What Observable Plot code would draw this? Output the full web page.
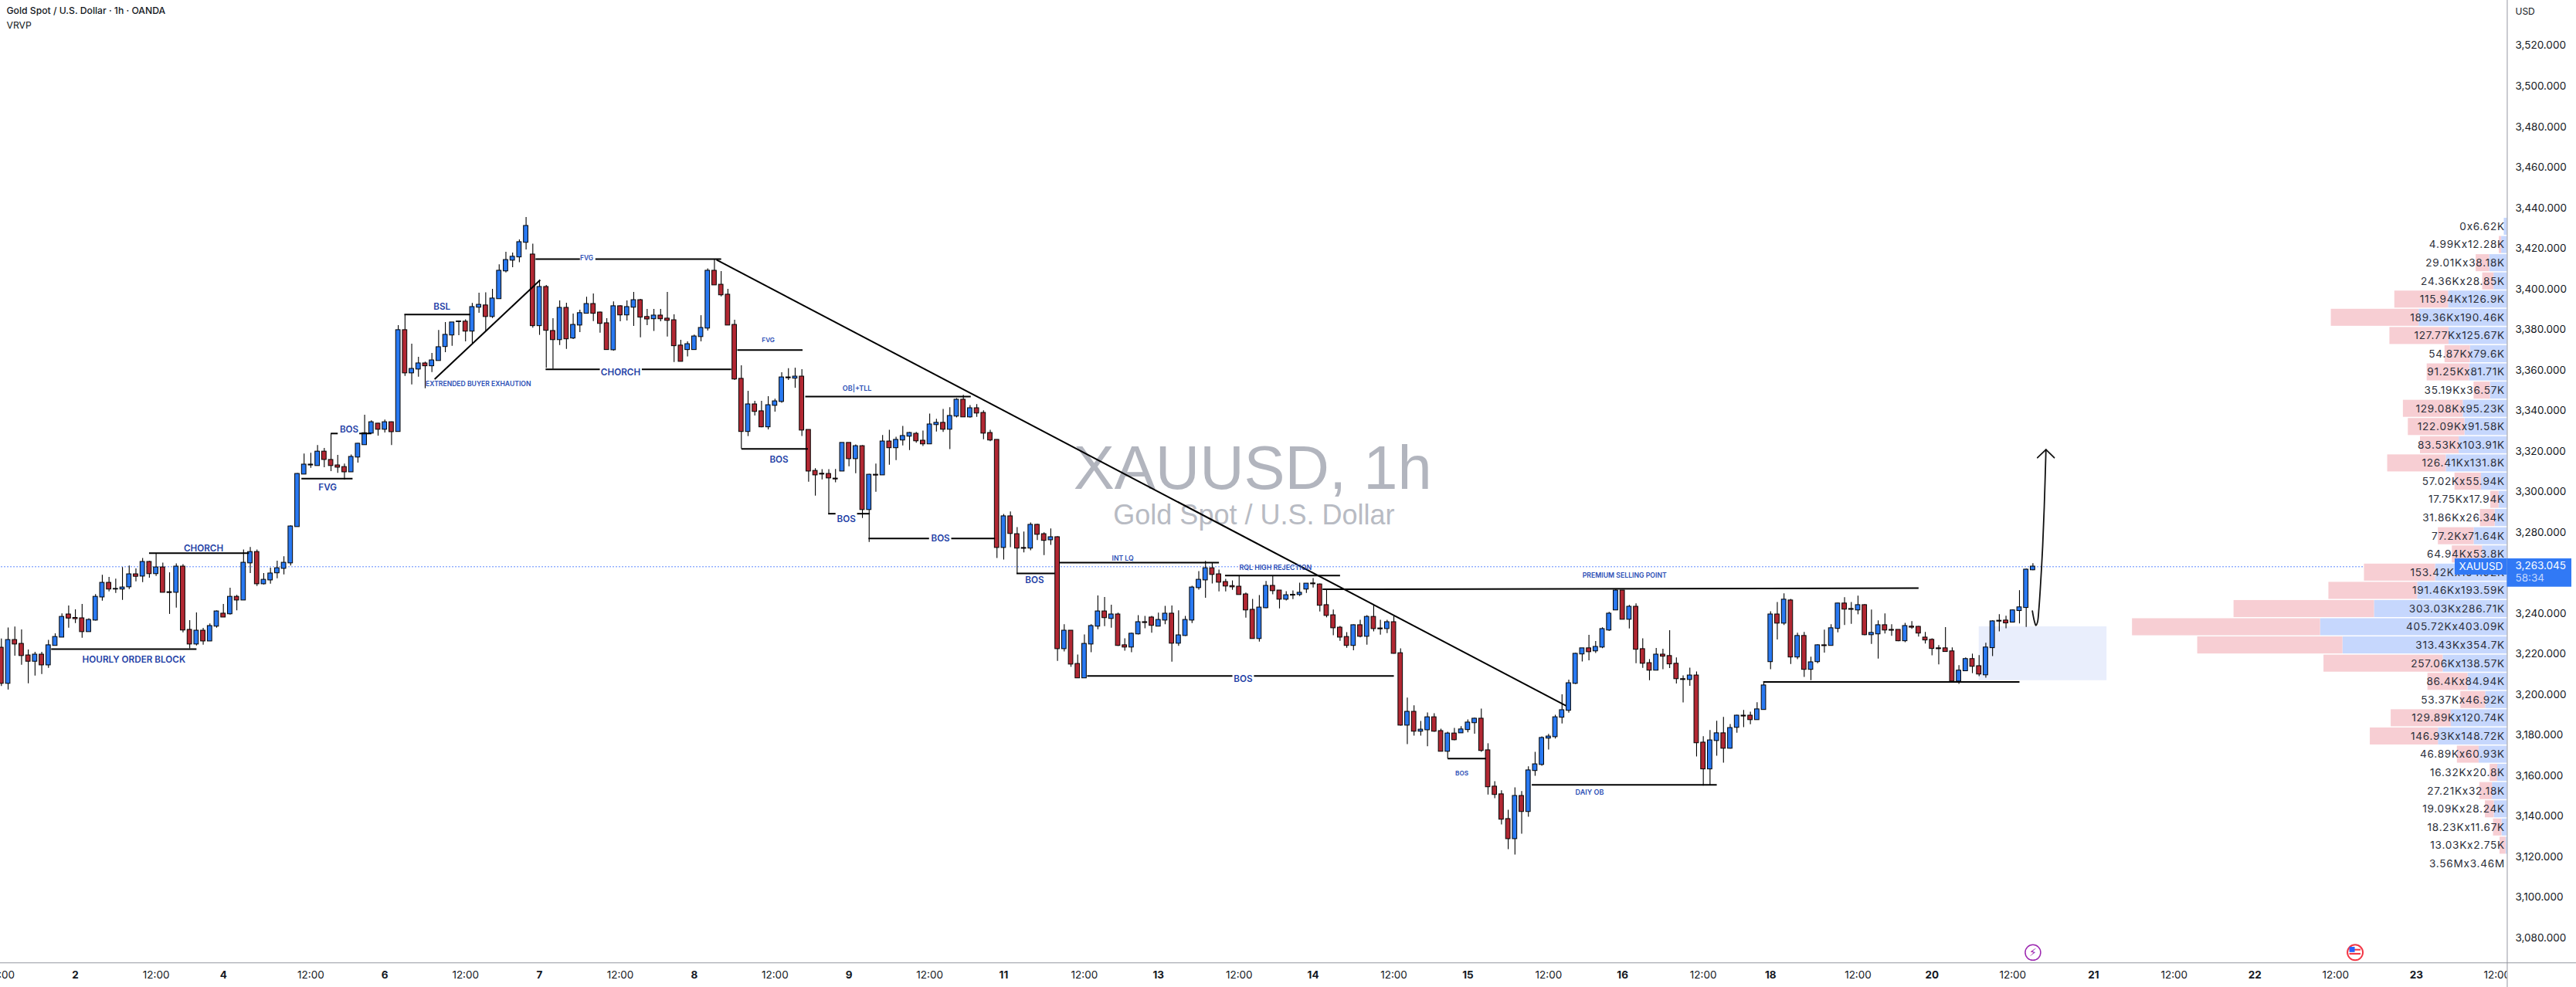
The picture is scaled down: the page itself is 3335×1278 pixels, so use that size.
<!DOCTYPE html>
<html><head><meta charset="utf-8">
<style>html,body{margin:0;padding:0;background:#fff;overflow:hidden}svg{display:block}</style>
<script src="https://cdn.jsdelivr.net/npm/d3@7"></script>
<script src="https://cdn.jsdelivr.net/npm/@observablehq/plot@0.6"></script>
</head><body><div id="chart"></div>
<script>
const opens=[
3223.0,3205.5,3226.8,3224.9,3219.2,3216.4,3219.6,3214.6,3224.2,3228.3,
3239.4,3237.7,3237.5,3231.0,3236.7,3248.1,3255.0,3252.0,3252.0,3253.1,
3259.2,3258.4,3265.3,3259.6,3262.6,3250.4,3250.4,3263.0,3231.8,3224.9,
3231.4,3226.4,3233.7,3239.8,3239.8,3248.1,3246.6,3264.9,3270.2,3254.6,
3256.5,3260.0,3262.2,3264.9,3282.8,3308.7,3313.3,3312.9,3319.7,3315.6,
3312.9,3312.1,3309.8,3317.1,3323.2,3328.9,3333.5,3330.8,3334.2,3329.7,
3379.6,3358.6,3360.5,3363.2,3362.1,3364.7,3371.6,3377.3,3383.9,3383.8,
3379.2,3391.0,3391.8,3386.4,3395.2,3408.9,3414.2,3415.8,3423.0,3416.9,
3381.9,3400.9,3379.2,3375.0,3390.6,3375.8,3382.2,3388.0,3392.5,3388.3,
3383.0,3370.0,3391.4,3387.2,3391.0,3394.4,3386.1,3385.3,3386.8,3385.3,
3384.5,3372.0,3370.1,3370.1,3376.5,3380.7,3408.9,3402.0,3397.1,3382.2,
3355.6,3329.7,3343.0,3339.6,3332.0,3342.6,3344.5,3356.3,3356.0,3356.7,
3330.4,3310.2,3308.8,3308.7,3306.4,3310.2,3324.0,3316.3,3322.4,3291.2,
3308.3,3308.3,3324.7,3321.7,3325.5,3327.4,3328.5,3325.1,3323.6,3333.1,
3333.9,3330.8,3337.3,3345.3,3336.9,3341.1,3338.8,3328.9,3325.5,3272.5,
3287.8,3279.0,3272.2,3272.2,3283.6,3279.0,3276.3,3277.5,3222.6,3231.4,
3215.0,3208.2,3224.9,3233.7,3240.9,3237.5,3239.4,3224.2,3223.4,3229.9,
3235.6,3237.9,3233.7,3236.7,3239.8,3225.3,3229.1,3236.7,3252.7,3256.5,
3262.2,3259.2,3255.4,3253.4,3253.1,3249.3,3241.7,3227.6,3242.8,3253.5,
3251.2,3247.0,3249.1,3249.3,3252.0,3254.7,3254.2,3244.0,3239.0,3232.9,
3228.3,3224.2,3234.1,3228.7,3238.2,3232.5,3232.5,3235.6,3220.3,3184.9,
3191.4,3181.9,3182.6,3188.7,3181.9,3172.0,3180.7,3181.1,3182.7,3186.1,
3188.0,3172.4,3154.5,3150.7,3138.5,3128.9,3149.9,3142.3,3162.5,3165.5,
3178.5,3179.2,3188.8,3192.2,3205.5,3220.0,3222.7,3221.5,3223.4,3231.8,
3241.7,3251.2,3237.1,3243.2,3222.3,3215.4,3212.0,3219.6,3218.9,3215.1,
3207.5,3207.4,3209.3,3176.2,3163.3,3177.3,3180.8,3173.5,3183.8,3189.5,
3189.5,3187.6,3192.6,3216.2,3239.4,3235.2,3246.3,3218.5,3228.8,3212.4,
3216.2,3224.2,3224.2,3232.6,3244.8,3242.1,3241.7,3244.0,3229.5,3229.9,
3234.1,3231.8,3231.8,3226.5,3233.4,3233.3,3228.0,3226.9,3222.7,3222.7,
3221.2,3206.6,3211.7,3217.4,3213.9,3209.7,3223.1,3236.3,3236.4,3235.7,3241.4,3242.9,3261.5];
const closes=[
3205.5,3226.8,3224.9,3219.2,3216.4,3219.6,3214.6,3224.2,3228.3,3238.2,
3237.7,3237.4,3231.0,3236.7,3248.1,3255.0,3252.0,3252.0,3252.7,3259.2,
3258.3,3265.3,3259.6,3262.6,3250.4,3250.3,3263.0,3231.8,3224.9,3231.4,
3226.4,3233.7,3240.9,3238.2,3248.1,3246.6,3264.9,3270.2,3254.6,3256.5,
3259.6,3262.2,3264.9,3282.8,3308.7,3313.3,3313.2,3319.7,3315.9,3312.9,
3312.1,3309.8,3317.1,3323.6,3328.8,3334.2,3330.8,3334.2,3329.6,3379.6,
3358.6,3360.5,3363.2,3362.1,3364.7,3371.2,3377.3,3383.4,3383.9,3379.2,
3391.0,3392.1,3386.4,3395.2,3408.9,3414.2,3415.8,3423.0,3431.0,3381.9,
3400.9,3379.6,3375.0,3390.6,3375.4,3382.2,3388.0,3392.5,3388.0,3383.0,
3370.1,3391.4,3387.2,3391.0,3394.4,3386.1,3385.2,3386.8,3385.3,3384.5,
3372.0,3364.3,3372.7,3376.5,3380.7,3408.9,3402.0,3397.1,3382.2,3355.6,
3329.7,3343.0,3339.6,3332.0,3342.6,3344.5,3356.3,3356.2,3356.7,3330.4,
3310.2,3308.3,3308.7,3306.8,3306.3,3324.0,3316.3,3322.4,3291.2,3308.3,
3308.2,3324.7,3321.7,3325.5,3327.4,3328.9,3325.1,3323.6,3333.1,3333.9,
3330.8,3337.3,3345.3,3336.9,3341.1,3338.8,3328.9,3325.5,3272.5,3287.8,
3279.4,3272.2,3272.1,3283.6,3279.0,3276.0,3277.5,3222.6,3231.4,3215.0,
3208.2,3224.9,3233.7,3240.9,3237.9,3239.4,3224.2,3223.4,3229.9,3235.6,
3235.5,3234.1,3236.7,3239.8,3225.3,3229.1,3236.7,3252.7,3256.5,3262.2,
3259.2,3255.4,3253.5,3253.1,3249.3,3241.7,3227.6,3242.8,3253.5,3251.2,
3247.0,3248.9,3249.0,3250.1,3254.6,3254.6,3244.0,3239.0,3232.9,3228.3,
3224.2,3234.1,3228.7,3238.2,3232.5,3232.4,3235.6,3220.3,3184.9,3191.4,
3181.9,3182.6,3188.7,3181.9,3172.0,3180.7,3177.7,3182.7,3186.1,3188.0,
3172.4,3154.5,3150.7,3138.5,3128.9,3149.9,3142.3,3162.5,3165.5,3178.5,
3179.2,3188.7,3192.2,3205.5,3220.0,3222.7,3221.1,3223.4,3232.2,3239.8,
3251.2,3237.1,3243.2,3222.3,3215.4,3212.0,3219.6,3218.9,3215.1,3207.8,
3207.4,3209.3,3176.2,3163.3,3177.3,3180.8,3173.5,3183.4,3189.5,3189.4,
3187.6,3192.6,3204.4,3239.4,3235.2,3246.7,3218.5,3228.8,3212.4,3215.8,
3224.2,3224.1,3232.6,3244.8,3242.1,3242.0,3244.0,3229.5,3230.3,3234.1,
3231.8,3231.7,3226.5,3233.7,3233.2,3230.3,3226.9,3222.7,3222.6,3221.2,
3206.6,3211.7,3217.4,3213.9,3210.1,3223.1,3236.0,3236.2,3235.3,3241.4,3242.9,3261.5,3263.0];
const highs=[
3227.5,3232.9,3233.4,3231.9,3222.0,3220.9,3220.9,3226.8,3230.0,3239.8,
3243.7,3241.8,3244.5,3237.5,3249.4,3258.9,3257.8,3257.0,3262.7,3263.5,
3262.0,3267.2,3265.7,3269.6,3264.9,3260.1,3264.5,3264.1,3236.5,3240.3,
3232.7,3234.9,3241.3,3244.5,3252.5,3249.0,3271.4,3272.6,3271.4,3259.7,
3262.4,3265.8,3268.0,3283.3,3309.1,3318.7,3319.1,3322.9,3321.4,3328.8,
3318.0,3313.7,3318.2,3323.9,3337.8,3335.1,3333.8,3335.4,3334.5,3382.0,
3387.3,3372.9,3366.4,3364.0,3368.3,3379.6,3383.5,3383.4,3384.3,3384.9,
3392.9,3398.0,3398.2,3399.9,3412.0,3418.2,3417.8,3424.3,3435.3,3422.2,
3404.5,3401.8,3385.4,3394.2,3393.0,3387.7,3389.6,3396.0,3397.6,3388.7,
3385.4,3393.7,3391.8,3394.2,3398.4,3394.9,3390.0,3390.0,3390.0,3398.4,
3387.3,3374.8,3374.0,3377.3,3386.9,3410.0,3414.6,3408.7,3399.9,3384.7,
3362.2,3349.6,3344.7,3344.7,3347.0,3345.7,3358.8,3360.8,3361.0,3360.3,
3330.4,3311.4,3311.0,3311.0,3311.1,3324.0,3324.0,3323.2,3322.8,3308.7,
3313.7,3327.8,3330.4,3327.0,3332.3,3329.3,3329.3,3330.0,3338.4,3335.8,
3340.7,3341.5,3346.0,3347.6,3342.6,3343.1,3340.0,3330.4,3325.5,3288.9,
3290.1,3282.4,3280.2,3284.7,3284.0,3279.8,3281.7,3277.9,3234.5,3231.4,
3219.6,3229.5,3234.5,3248.7,3247.9,3244.1,3240.2,3227.6,3230.3,3239.0,
3238.6,3238.6,3240.2,3243.6,3243.7,3241.4,3238.6,3253.5,3260.7,3265.7,
3264.7,3261.5,3256.9,3256.1,3258.4,3250.1,3247.0,3248.9,3255.8,3258.4,
3251.2,3250.8,3251.2,3255.0,3254.6,3257.3,3254.6,3251.6,3241.7,3233.7,
3230.6,3234.4,3236.7,3239.0,3244.0,3236.7,3236.7,3238.6,3222.6,3198.3,
3194.5,3186.8,3191.0,3190.6,3183.0,3181.5,3183.4,3184.2,3187.6,3188.4,
3192.9,3175.8,3157.1,3152.6,3143.0,3154.1,3152.2,3164.4,3171.6,3179.2,
3180.4,3189.9,3199.9,3207.2,3220.4,3222.7,3229.3,3226.2,3233.0,3240.6,
3252.0,3251.2,3244.0,3244.8,3227.6,3217.3,3222.8,3222.4,3231.6,3218.1,
3209.3,3213.1,3211.2,3179.3,3182.3,3186.9,3188.8,3185.3,3189.9,3192.2,
3191.4,3196.0,3205.9,3240.9,3245.5,3249.7,3247.0,3230.3,3230.7,3218.5,
3224.6,3231.8,3234.5,3245.1,3247.8,3245.5,3248.6,3244.4,3241.7,3236.4,
3239.8,3234.5,3231.8,3235.2,3236.0,3233.7,3230.7,3227.6,3224.2,3233.1,
3223.1,3214.3,3218.1,3220.0,3219.3,3225.4,3236.4,3239.5,3238.7,3241.7,3251.3,3261.9,3264.6];
const lows=[
3204.0,3202.3,3219.0,3214.5,3205.4,3209.2,3209.9,3213.0,3224.2,3228.3,
3232.8,3235.1,3227.8,3231.0,3236.3,3246.1,3250.7,3249.9,3246.5,3251.8,
3255.6,3255.3,3257.5,3258.3,3250.4,3239.6,3242.7,3230.5,3222.6,3224.0,
3224.4,3226.4,3232.8,3238.2,3239.3,3241.4,3246.6,3259.7,3253.4,3254.1,
3254.5,3257.2,3259.1,3263.5,3282.8,3308.7,3311.6,3312.9,3311.9,3310.0,
3309.2,3305.8,3309.8,3314.2,3323.2,3328.9,3327.5,3329.1,3322.9,3329.7,
3357.0,3352.8,3356.6,3350.9,3358.9,3364.7,3368.7,3371.8,3377.0,3374.0,
3373.2,3388.1,3379.2,3385.5,3395.2,3408.0,3410.6,3413.0,3419.3,3380.8,
3377.2,3361.0,3360.5,3372.2,3370.3,3375.1,3378.6,3388.0,3384.0,3378.3,
3370.1,3369.4,3383.9,3384.3,3381.6,3376.0,3382.0,3379.1,3383.9,3376.4,
3363.8,3364.3,3366.6,3370.1,3374.0,3379.3,3402.0,3396.2,3382.2,3355.0,
3321.2,3327.3,3337.4,3331.6,3330.6,3339.3,3343.7,3355.0,3351.1,3327.3,
3304.8,3297.9,3305.9,3289.3,3304.5,3310.2,3312.4,3309.0,3286.9,3275.1,
3299.8,3308.3,3313.2,3315.4,3322.7,3320.4,3324.0,3322.4,3323.6,3329.5,
3329.3,3320.9,3336.5,3336.9,3336.4,3336.8,3325.7,3324.8,3267.2,3266.4,
3272.5,3259.7,3269.9,3271.0,3276.0,3268.6,3273.6,3216.4,3221.1,3213.5,
3208.2,3208.2,3220.7,3232.0,3233.6,3232.8,3223.8,3221.5,3220.7,3229.5,
3232.5,3230.3,3233.7,3234.5,3216.0,3223.8,3228.7,3235.1,3251.6,3247.6,
3254.6,3250.7,3250.7,3251.5,3249.3,3237.7,3227.6,3225.9,3242.4,3249.3,
3242.3,3246.2,3246.9,3248.4,3249.9,3252.6,3240.8,3237.9,3229.1,3226.3,
3222.9,3221.7,3228.0,3224.4,3231.0,3229.4,3230.1,3220.0,3184.5,3175.4,
3179.6,3179.6,3174.3,3181.5,3172.0,3168.2,3177.3,3180.9,3181.2,3180.5,
3171.6,3150.5,3148.7,3135.8,3123.6,3120.9,3131.2,3139.6,3159.8,3164.7,
3172.7,3178.1,3185.6,3190.9,3205.0,3216.1,3216.7,3220.3,3222.7,3231.2,
3241.7,3237.1,3232.4,3215.3,3213.0,3206.9,3212.0,3212.3,3212.9,3205.3,
3195.9,3204.1,3169.3,3154.9,3155.4,3169.7,3166.2,3173.2,3181.0,3183.8,
3185.2,3187.6,3192.6,3212.3,3227.0,3234.1,3214.9,3217.3,3208.5,3206.9,
3215.3,3220.5,3224.2,3230.5,3234.1,3234.7,3239.4,3229.1,3224.8,3217.6,
3229.9,3228.8,3226.1,3225.7,3232.2,3228.4,3225.0,3219.2,3214.7,3221.2,
3206.6,3205.1,3211.7,3210.4,3208.9,3208.1,3218.8,3231.0,3232.5,3235.7,3234.9,3233.2,3261.2];

const priceTicks=[3520,3500,3480,3460,3440,3420,3400,3380,3360,3340,3320,3300,3280,3240,3220,3200,3180,3160,3140,3120,3100,3080];
const timeBars=[0,11,23,33,46,57,69,80,92,103,115,126,138,149,161,172,184,195,207,218,230,241,253,263,276,287,299,311,323,335,347,359,371];
const timeLabels=["12:00","2","12:00","4","12:00","6","12:00","7","12:00","8","12:00","9","12:00","11","12:00","13","12:00","14","12:00","15","12:00","16","12:00","18","12:00","20","12:00","21","12:00","22","12:00","23","12:00"];

const profilePrices=[3430.75,3421.77,3412.80,3403.82,3394.84,3385.87,3376.89,3367.91,3358.93,3349.96,3340.98,3332.00,3323.03,3314.05,3305.07,3296.10,3287.12,3278.14,3269.16,3260.19,3251.21,3242.23,3233.26,3224.28,3215.30,3206.32,3197.35,3188.37,3179.39,3170.42,3161.44,3152.46,3143.48,3134.51,3125.53];
const sellVol=[0,4.99,29.01,24.36,115.94,189.36,127.77,54.87,91.25,35.19,129.08,122.09,83.53,126.41,57.02,17.75,31.86,77.2,64.94,153.42,191.46,303.03,405.72,313.43,257.06,86.4,53.37,129.89,146.93,46.89,16.32,27.21,19.09,18.23,13.03];
const buyVol=[6.62,12.28,38.18,28.85,126.9,190.46,125.67,79.6,81.71,36.57,95.23,91.58,103.91,131.8,55.94,17.94,26.34,71.64,53.8,154.92,193.59,286.71,403.09,354.7,138.57,84.94,46.92,120.74,148.72,60.93,20.8,32.18,28.24,11.67,2.75];

const segBar1=[7.4,21.95,44.6,49,53.2,59.9,64.4,79.4,88.3,80.9,95.2,106.3,109.4,110,119.5,122.9,127.2,128.9,141.2,150.9,157.3,181.9,161.4,186.2,196.4,215,227.5,261.9];
const segBar2=[29,36.8,52.2,50,55,69.7,80.1,86,107,88.96,108.5,232.6,119.1,119.9,144.1,124,129.1,137.9,147.7,156.6,181,199,183,207,285,220.7,255,300];
const segP1=[3222.45,3269.7,3306.5,3328.75,3328.75,3387.45,3355.5,3414.75,3414.75,3360.4,3360.4,3414.4,3369.9,3321.2,3346.95,3289.2,3289.2,3277,3277,3259.75,3265.1,3258.7,3209.2,3209.2,3251.9,3168.45,3155.45,3206.2];
const segP2=[3222.45,3269.7,3306.5,3328.75,3328.75,3387.45,3404.5,3414.75,3414.75,3360.4,3360.4,3194.5,3369.9,3321.2,3346.95,3289.2,3289.2,3277,3277,3259.75,3265.1,3258.7,3209.2,3209.2,3252.5,3168.45,3155.45,3206.2];

const bigText=["HOURLY ORDER BLOCK","CHORCH","FVG","BOS","BSL","CHORCH","BOS","BOS","BOS","BOS","BOS"];
const bigBar=[19.7,30.05,48.5,51.7,65.5,92.05,115.6,125.6,139.6,153.6,184.6];
const bigPrice=[3217.2,3272.1,3301.95,3330.5,3391.1,3358.8,3315.7,3286.4,3276.9,3256.3,3207.6];
const smallText=["EXTRENDED BUYER EXHAUTION","FVG","FVG","OB|+TLL","INT LQ","RQL HIGH REJECTION","PREMIUM SELLING POINT","BOS","DAIY OB"];
const smallBar=[70.9,87,114,127.2,166.7,189.4,241.3,217.1,236.1];
const smallPrice=[3353.05,3415.1,3374.8,3351.1,3267,3262.4,3258.6,3161.1,3151.6];
const smallSize=[8.6,8.4,8.2,9,8.6,8.8,8.7,8.2,9];

const curveBars=[301.92,302.2,302.45,302.68,302.9,303.2,303.45,303.68,303.94];
const curvePrices=[3241.2,3236.4,3234.1,3235.7,3242.7,3258,3273.2,3292.2,3320.8];
const headBars=[302.68,303.94,305.17];
const headPrices=[3316.8,3320.8,3316.8];

const lastPrice=3263.045, axisBar=372.51, pxBar=8.709, pxK=0.6;
const candles=opens.map((o,i)=>({i,o,c:closes[i],h:highs[i],l:lows[i]}));
const profile=profilePrices.map((p,k)=>({p,s:sellVol[k],b:buyVol[k]}));
const segs=segBar1.map((x,k)=>({x1:x,x2:segBar2[k],y1:segP1[k],y2:segP2[k]}));
const bigLabels=bigText.map((t,k)=>({t,x:bigBar[k],y:bigPrice[k]}));
const smallLabels=smallText.map((t,k)=>({t,x:smallBar[k],y:smallPrice[k],s:smallSize[k]}));
const blue="#2979F2",red="#B22833",ink="#131722",lblBlue="#1F3FA6";
const one=[0];
const fmtV=v=>v===0?"0":v+"K";

const chart=Plot.plot({
  width:3335,height:1278,margin:0,
  x:{domain:[-0.149,382.79],range:[0,3335],axis:null},
  y:{domain:[3055.6,3542.34],range:[1278,0],axis:null},
  style:{fontFamily:"Inter, Roboto, sans-serif",background:"#fff",color:ink},
  marks:[
    Plot.rect(one,{x1:294,x2:313,y1:3206.9,y2:3233.46,fill:"#E9EEFC"}),
    Plot.ruleY([lastPrice],{x1:0,x2:axisBar,stroke:"#2962FF",strokeWidth:1,strokeDasharray:"1.5 2.5"}),
    Plot.text(["XAUUSD, 1h"],{x:186,y:3301.6,text:d=>d,fontFamily:"Liberation Sans",fontSize:79.5,fill:"#B2B5BE",textAnchor:"middle",lineAnchor:"bottom"}),
    Plot.text(["Gold Spot / U.S. Dollar"],{x:186.2,y:3283.9,text:d=>d,fontFamily:"Liberation Sans",fontSize:36,fill:"#B8BBC3",textAnchor:"middle",lineAnchor:"bottom"}),
    Plot.ruleX(candles,{x:"i",y1:"l",y2:"h",stroke:"#000",strokeWidth:1.1}),
    Plot.rect(candles,{x1:d=>d.i-0.33,x2:d=>d.i+0.33,y1:"o",y2:"c",fill:d=>d.c>=d.o?blue:red,stroke:"#000",strokeWidth:1,insetTop:-0.4,insetBottom:-0.4}),
    Plot.link(segs,{x1:"x1",x2:"x2",y1:"y1",y2:"y2",stroke:"#000",strokeWidth:2}),
    Plot.line(curveBars.map((x,k)=>({x,y:curvePrices[k]})),{x:"x",y:"y",curve:"catmull-rom",stroke:"#111",strokeWidth:1.8}),
    Plot.line(headBars.map((x,k)=>({x,y:headPrices[k]})),{x:"x",y:"y",stroke:"#111",strokeWidth:1.8}),
    Plot.text(bigLabels,{x:"x",y:"y",text:"t",fontSize:11.7,fontWeight:600,fill:lblBlue,textAnchor:"middle"}),
    Plot.text(smallLabels,{x:"x",y:"y",text:"t",fontSize:"s",fontWeight:600,fill:"#2A4DB5",textAnchor:"middle"}),
    Plot.rect(profile,{x1:d=>axisBar-d.b*pxK/pxBar,x2:axisBar,y1:d=>d.p-4.2,y2:d=>d.p+4.2,fill:"#C6D7FD"}),
    Plot.rect(profile,{x1:d=>axisBar-(d.b+d.s)*pxK/pxBar,x2:d=>axisBar-d.b*pxK/pxBar,y1:d=>d.p-4.2,y2:d=>d.p+4.2,fill:"#F7CED3"}),
    Plot.text(profile,{x:axisBar,y:"p",dx:-3,text:d=>fmtV(d.s)+"x"+fmtV(d.b),textAnchor:"end",fontSize:13.6,fill:"#2A2E39"}),
    Plot.text(["3.56Mx3.46M"],{x:axisBar,y:3116.55,dx:-3,text:d=>d,textAnchor:"end",fontSize:13.6,fill:"#2A2E39"}),
    Plot.text(timeBars,{x:d=>d,y:3061.8,text:(d,k)=>timeLabels[k],fontSize:13.5,fontWeight:400,fill:ink,textAnchor:"middle",filter:(d,k)=>timeLabels[k]==="12:00"}),
    Plot.text(timeBars,{x:d=>d,y:3061.8,text:(d,k)=>timeLabels[k],fontSize:13.5,fontWeight:700,fill:ink,textAnchor:"middle",filter:(d,k)=>timeLabels[k]!=="12:00"}),
    Plot.rect(one,{x1:axisBar,x2:382.79,y1:3055.6,y2:3067.7,fill:"#fff"}),
    Plot.ruleY([3067.7],{stroke:"#9598A1",strokeWidth:1}),
    Plot.ruleX([axisBar],{stroke:"#9598A1",strokeWidth:1}),
    Plot.text(priceTicks,{x:axisBar,y:d=>d,dx:10.5,text:d=>d3.format(",.3f")(d),textAnchor:"start",fontSize:13.5,fill:ink}),
    Plot.text(["USD"],{x:axisBar,y:3536.6,dx:10.5,text:d=>d,textAnchor:"start",fontSize:12,fill:ink}),
    Plot.rect(one,{x1:364.76,x2:axisBar,y1:3258.97,y2:3266.97,fill:"#3179F5"}),
    Plot.rect(one,{x1:axisBar,x2:382.1,y1:3253.0,y2:3266.97,fill:"#3179F5"}),
    Plot.text(["XAUUSD"],{x:368.6,y:3263.2,text:d=>d,fontSize:13.5,fill:"#fff",textAnchor:"middle"}),
    Plot.text(["3,263.045"],{x:axisBar,y:3263.4,dx:10.5,text:d=>d,fontSize:13.5,fill:"#fff",textAnchor:"start"}),
    Plot.text(["58:34"],{x:axisBar,y:3257.4,dx:10.5,text:d=>d,fontSize:13.5,fill:"#C5D8FD",textAnchor:"start"}),
    Plot.text(["Gold Spot / U.S. Dollar · 1h · OANDA"],{frameAnchor:"top-left",dx:8,dy:9,text:d=>d,fontSize:12.2,fontWeight:500,fill:ink}),
    Plot.text(["VRVP"],{frameAnchor:"top-left",dx:8,dy:27.5,text:d=>d,fontSize:12.2,fill:ink}),
    Plot.dot(one,{x:302,y:3072.8,r:10,fill:"#fff",stroke:"#9C27B0",strokeWidth:1.5}),
    Plot.text(["⚡"],{x:302,y:3072.8,text:d=>d,fontFamily:"DejaVu Sans",fontSize:14,fill:"#9C27B0",textAnchor:"middle"}),
    Plot.dot(one,{x:349.9,y:3072.8,r:10,fill:"#fff",stroke:"#F23645",strokeWidth:2}),
    Plot.rect(one,{x1:349.1,x2:350.75,y1:3071.6,y2:3072.4,fill:"#F23645"}),
    Plot.rect(one,{x1:349.1,x2:350.75,y1:3073.6,y2:3074.4,fill:"#F23645"}),
    Plot.rect(one,{x1:349.1,x2:349.9,y1:3072.8,y2:3075.4,fill:"#2962FF"})
  ]
});
chart.querySelectorAll("text").forEach(t=>{
  if(/^[\d.]+[KM]?x[\d.]+[KM]$/.test(t.textContent)) t.style.letterSpacing="0.75px";
});
document.getElementById("chart").append(chart);
</script></body></html>
